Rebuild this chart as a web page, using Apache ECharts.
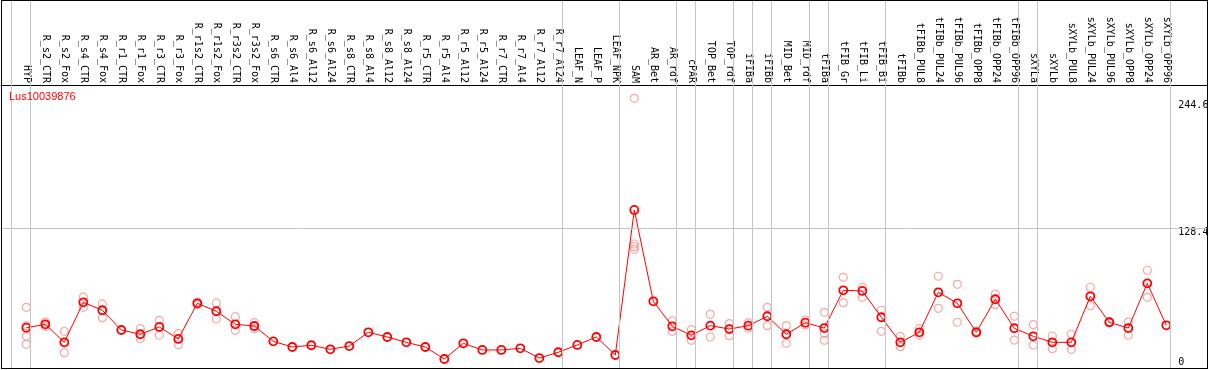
<!DOCTYPE html>
<html>
<head>
<meta charset="utf-8">
<script src="https://cdn.jsdelivr.net/npm/echarts@6/dist/echarts.min.js"></script>
<style>
  html, body { margin: 0; padding: 0; background: #fff; }
  #wrap { position: relative; width: 1209px; height: 370px; }
  #chart { position: absolute; left: 0; top: 0; width: 1209px; height: 370px; }
  #frame { position: absolute; left: 1px; top: 0; width: 1207px; height: 369px; box-sizing: border-box; border: 1px solid #000; pointer-events: none; z-index: 5; }
</style>
</head>
<body>
<div id="wrap"><div id="chart"></div><div id="frame"></div></div>
<script>
const title = 'Lus10039876';
const categories = ['HYP','R_s2_CTR','R_s2_Fox','R_s4_CTR','R_s4_Fox','R_r1_CTR','R_r1_Fox','R_r3_CTR','R_r3_Fox','R_r1s2_CTR','R_r1s2_Fox','R_r3s2_CTR','R_r3s2_Fox','R_s6_CTR','R_s6_Al4','R_s6_Al12','R_s6_Al24','R_s8_CTR','R_s8_Al4','R_s8_Al12','R_s8_Al24','R_r5_CTR','R_r5_Al4','R_r5_Al12','R_r5_Al24','R_r7_CTR','R_r7_Al4','R_r7_Al12','R_r7_Al24','LEAF_N','LEAF_P','LEAF_NPK','SAM','AR_Bet','AR_rdf','cPAR','TOP_Bet','TOP_rdf','iFIBa','iFIBb','MID_Bet','MID_rdf','tFIBa','tFIB_Gr','tFIB_Li','tFIB_Bi','tFIBb','tFIBb_PUL8','tFIBb_PUL24','tFIBb_PUL96','tFIBb_OPP8','tFIBb_OPP24','tFIBb_OPP96','sXYLa','sXYLb','sXYLb_PUL8','sXYLb_PUL24','sXYLb_PUL96','sXYLb_OPP8','sXYLb_OPP24','sXYLb_OPP96'];
const means = [37.4,40.5,24.0,60.7,53.4,35.3,31.4,38.1,27.1,59.8,52.5,40.5,39.0,24.9,19.7,21.3,17.6,20.6,33.2,28.9,24.0,19.7,8.7,23.1,17.0,17.0,18.5,9.6,14.9,21.6,28.9,12.4,145.4,61.6,38.7,30.4,39.3,36.2,39.3,47.9,31.4,42.0,37.1,71.7,71.1,47.0,24.0,33.2,69.9,59.8,33.2,63.5,36.9,29.5,24.0,24.0,66.2,42.4,37.1,78.1,39.6];
const replicates = [
  [56.1,39.3,29.5,22.2],[42.6,38.5],[34.1,14.5],[65.6,56.1],[59.2,46.6],[],[36.5,27.3],[44.2,30.5],[31.9,21.8],[61.0,58.6],
  [60.1,45.4],[47.5,35.0],[42.0,36.5],[],[],[],[],[],[],[],
  [],[],[],[],[],[],[],[],[],[],
  [],[],[247.8,114.2,111.7,109.3],[],[43.9,34.1],[35.6,25.8],[49.7,28.9],[41.1,30.1],[42.0,37.1],[56.1,39.3],
  [39.3,23.1],[44.5,39.9],[51.5,32.3,25.8],[83.6,60.4],[74.5,65.3],[53.4,34.1],[29.5,20.0],[36.5,30.7],[84.6,55.2],[77.2,42.4],
  [34.0,32.4],[68.3,58.5],[47.9,26.1],[40.2,21.3],[29.8,18.2],[31.4,17.6],[74.5,57.6],[43.0,41.8],[42.6,30.5],[90.1,65.3],
  []
];
const groupEnds = [-1, 0, 28, 31, 34, 35, 37, 38, 39, 41, 42, 45, 52, 53, 60];
const yTicks = [0, 128.4, 244.6];

const meanData = means.map((v, i) => [i, v]);
const repData = [];
replicates.forEach((arr, i) => arr.forEach(v => repData.push([i, v])));
const catIdx = categories.map((c, i) => i);

const X_MIN = -1.3316, X_MAX = 62.142;
const gridLine = { color: '#c4c4c4', width: 1, type: 'solid' };
const vLines = groupEnds.map(g => ({ xAxis: g + 0.22 }));

const chart = echarts.init(document.getElementById('chart'), null, { renderer: 'canvas' });
chart.setOption({
  animation: false,
  backgroundColor: '#fff',
  title: {
    text: title, left: 9, top: 91, padding: 0,
    textStyle: { color: '#ff0000', fontSize: 11, fontWeight: 'normal', fontFamily: 'Liberation Sans' }
  },
  grid: [
    { left: 1, top: 85, right: 2, bottom: 1.5, outerBoundsMode: 'none', containLabel: false },
    { left: 1, top: 0, right: 2, height: 85, outerBoundsMode: 'none', containLabel: false }
  ],
  xAxis: [
    {
      gridIndex: 0, type: 'value', position: 'top',
      min: X_MIN, max: X_MAX,
      axisLine: { show: true, onZero: false, lineStyle: { color: '#000', width: 1 } },
      axisTick: { show: false },
      splitLine: { show: false },
      axisLabel: {
        customValues: catIdx, rotate: 90, margin: 2,
        fontFamily: 'DejaVu Sans Mono', fontSize: 10, color: '#000',
        formatter: v => categories[Math.round(v)]
      }
    },
    { gridIndex: 1, type: 'value', min: X_MIN, max: X_MAX, show: false }
  ],
  yAxis: [
    {
      gridIndex: 0, type: 'value', position: 'right', offset: -36.7,
      min: 0, max: 260,
      axisLine: { show: false }, axisTick: { show: false }, splitLine: { show: false },
      axisLabel: {
        customValues: yTicks, margin: 6, verticalAlign: 'middle',
        formatter: v => (v === 0 ? '{b|' + v + '}' : '{t|' + v + '}'),
        rich: {
          t: { fontFamily: 'DejaVu Sans Mono', fontSize: 10, color: '#000', lineHeight: 10, padding: [8, 4, 0, 2], backgroundColor: '#fff' },
          b: { fontFamily: 'DejaVu Sans Mono', fontSize: 10, color: '#000', lineHeight: 10, padding: [0, 4, 12, 2] }
        }
      }
    },
    { gridIndex: 1, type: 'value', min: 0, max: 1, show: false }
  ],
  series: [
    {
      type: 'line', data: [], z: 1, silent: true, xAxisIndex: 1, yAxisIndex: 1,
      markLine: { silent: true, symbol: 'none', animation: false, label: { show: false }, lineStyle: gridLine, data: vLines }
    },
    {
      type: 'line', data: [], z: 1, silent: true, xAxisIndex: 0, yAxisIndex: 0,
      markLine: { silent: true, symbol: 'none', animation: false, label: { show: false }, lineStyle: gridLine,
        data: vLines.concat([{ yAxis: yTicks[1] }]) }
    },
    {
      type: 'scatter', data: repData, z: 2, silent: true, xAxisIndex: 0, yAxisIndex: 0,
      symbol: 'circle', symbolSize: 8,
      itemStyle: { color: 'rgba(0,0,0,0)', borderColor: '#f09494', borderWidth: 1.2 }
    },
    {
      type: 'line', data: meanData, z: 3, silent: true, xAxisIndex: 0, yAxisIndex: 0,
      symbol: 'circle', symbolSize: 8, showSymbol: true,
      lineStyle: { color: '#ff0000', width: 1 },
      itemStyle: { color: 'rgba(0,0,0,0)', borderColor: '#ff0000', borderWidth: 1.8 }
    }
  ]
});
</script>
</body>
</html>
